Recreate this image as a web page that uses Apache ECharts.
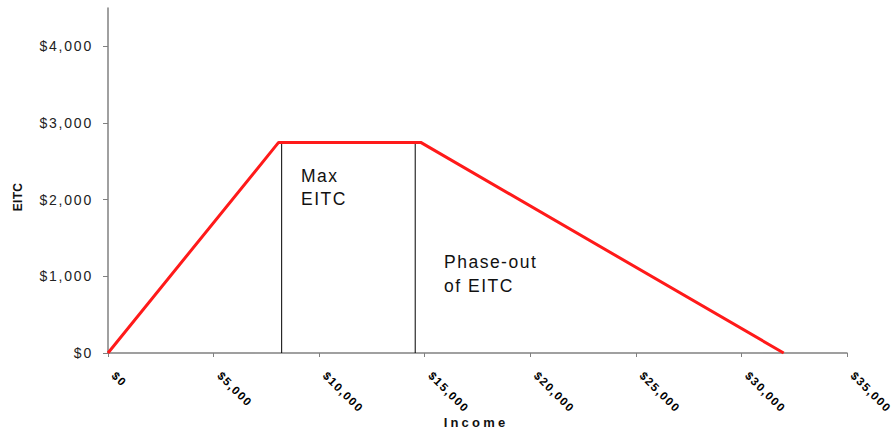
<!DOCTYPE html>
<html>
<head>
<meta charset="utf-8">
<script src="https://cdn.jsdelivr.net/npm/echarts@6/dist/echarts.min.js"></script>
<style>
  html, body { margin: 0; padding: 0; background: #fff; }
  #chart { width: 895px; height: 433px; }
  /* widen the tracking of the labels a little, as in the original worksheet chart */
  #chart text { letter-spacing: 1.5px !important; }
  #chart text[style*="14px"] { letter-spacing: 1.8px !important; }
  #chart text[style*="bold 13px"] { letter-spacing: 3.2px !important; }
  #chart text[style*="bold 11.5px"] { letter-spacing: 1.2px !important; }
  #chart text[style*="bold 12px"] { letter-spacing: 0.3px !important; }
</style>
</head>
<body>
<div id="chart"></div>
<script>
// EITC schedule: phase-in, plateau, phase-out
const incomePoints = [0, 8080, 14810, 32001];
const eitcPoints = [0, 2747, 2747, 0];

// boundaries of the plateau region
const dividerIncome = [8225, 14550];
const dividerTop = 2760;

const xTicks = [0, 5000, 10000, 15000, 20000, 25000, 30000, 35000];
const yTicks = [0, 1000, 2000, 3000, 4000];

const FONT = '"Liberation Sans", Arial, sans-serif';

function money(v) {
  return '$' + v.toLocaleString('en-US');
}

const chart = echarts.init(document.getElementById('chart'), null, { renderer: 'svg' });

const dividerSeries = dividerIncome.map(function (x) {
  return {
    type: 'line',
    data: [[x, 0], [x, dividerTop]],
    symbol: 'none',
    lineStyle: { color: '#000', width: 1 },
    silent: true,
    z: 2
  };
});

chart.setOption({
  animation: false,
  backgroundColor: '#fff',
  grid: { left: 108, right: 48, top: 8, bottom: 80 },
  xAxis: {
    type: 'value',
    min: 0,
    max: 35000,
    interval: 5000,
    axisLine: { lineStyle: { color: '#808080', width: 1.5 } },
    axisTick: { show: true, length: 4, lineStyle: { color: '#808080' }, customValues: xTicks },
    axisLabel: {
      customValues: xTicks,
      rotate: -45,
      margin: 15,
      padding: [0, 0, 0, 8],
      color: '#000',
      fontFamily: FONT,
      fontWeight: 'bold',
      fontSize: 11.5,
      formatter: money
    },
    splitLine: { show: false }
  },
  yAxis: {
    type: 'value',
    min: 0,
    max: 4500,
    interval: 1000,
    axisLine: { show: true, lineStyle: { color: '#808080', width: 1.5 } },
    axisTick: { show: true, length: 5, lineStyle: { color: '#808080' }, customValues: yTicks },
    axisLabel: {
      customValues: yTicks,
      margin: 15,
      color: '#222',
      fontFamily: FONT,
      fontSize: 14,
      formatter: money
    },
    splitLine: { show: false }
  },
  series: dividerSeries.concat([{
    type: 'line',
    data: incomePoints.map(function (x, i) { return [x, eitcPoints[i]]; }),
    symbol: 'none',
    lineStyle: { color: '#ff1a1a', width: 3 },
    z: 3
  }]),
  graphic: [
    {
      type: 'text', left: 301, top: 164,
      style: { text: 'Max\nEITC', font: '17.5px ' + FONT, fill: '#111', lineHeight: 23 }
    },
    {
      type: 'text', left: 444, top: 250,
      style: { text: 'Phase-out\nof EITC', font: '17.5px ' + FONT, fill: '#111', lineHeight: 24 }
    },
    {
      type: 'text', x: 476, y: 422,
      style: { text: 'Income', font: 'bold 13px ' + FONT, fill: '#111', textAlign: 'center', textVerticalAlign: 'middle' }
    },
    {
      type: 'text', x: 18, y: 197, rotation: Math.PI / 2,
      style: { text: 'EITC', font: 'bold 12px ' + FONT, fill: '#111', textAlign: 'center', textVerticalAlign: 'middle' }
    }
  ]
});
</script>
</body>
</html>
